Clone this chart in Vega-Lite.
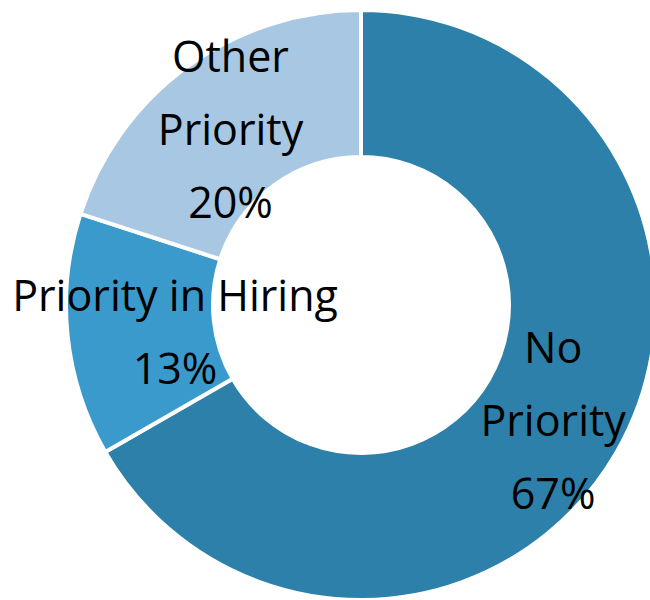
{
  "$schema": "https://vega.github.io/schema/vega-lite/v6.json",
  "width": 578,
  "height": 590,
  "autosize": {"type": "none"},
  "padding": {"left": 72, "top": 10, "right": 0, "bottom": 0},
  "background": "white",
  "view": {"stroke": null},
  "data": {
    "values": [
      {"category": "No Priority", "share": 66.7, "rank": 1, "label": "No\nPriority\n67%"},
      {"category": "Priority in Hiring", "share": 13.3, "rank": 2, "label": "Priority in Hiring\n13%"},
      {"category": "Other Priority", "share": 20, "rank": 3, "label": "Other\nPriority\n20%"}
    ]
  },
  "encoding": {
    "theta": {"field": "share", "type": "quantitative", "stack": true},
    "order": {"field": "rank", "type": "quantitative", "sort": "ascending"}
  },
  "layer": [
    {
      "mark": {"type": "arc", "innerRadius": 148, "outerRadius": 295, "stroke": "white", "strokeWidth": 4},
      "encoding": {
        "color": {
          "field": "category",
          "type": "nominal",
          "scale": {"domain": ["No Priority", "Priority in Hiring", "Other Priority"], "range": ["#2c80a9", "#3a9acb", "#a8c7e2"]},
          "legend": null
        }
      }
    },
    {
      "mark": {"type": "text", "radius": 222, "dy": -66, "fontSize": 43, "font": "Open Sans", "lineBreak": "\n", "lineHeight": 73, "baseline": "middle", "align": "center", "color": "black"},
      "encoding": {
        "text": {
          "condition": {"test": "datum.category !== 'Priority in Hiring'", "field": "label"},
          "value": ""
        }
      }
    },
    {
      "mark": {"type": "text", "radius": 187, "dy": -26, "fontSize": 43, "font": "Open Sans", "lineBreak": "\n", "lineHeight": 73, "baseline": "middle", "align": "center", "color": "black"},
      "encoding": {
        "text": {
          "condition": {"test": "datum.category === 'Priority in Hiring'", "field": "label"},
          "value": ""
        }
      }
    }
  ]
}
